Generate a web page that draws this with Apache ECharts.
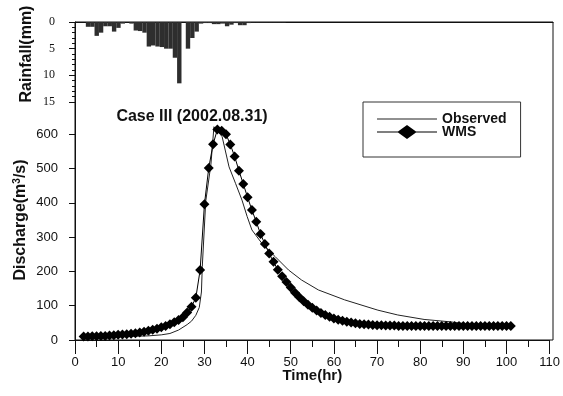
<!DOCTYPE html>
<html>
<head>
<meta charset="utf-8">
<script src="https://cdn.jsdelivr.net/npm/echarts@6.0.0/dist/echarts.min.js"></script>
<style>
  html, body { margin: 0; padding: 0; background: #fff; }
  #main { width: 563px; height: 396px; }
</style>
</head>
<body>
<div id="main"></div>
<script>
// hourly rainfall (mm), plotted downward from the top
const rainHour = [3, 4, 5, 6, 7, 8, 9, 10, 11, 12, 13, 14, 15, 16, 17, 18, 19, 20, 21, 22, 23, 24, 25, 26,
    27, 28, 29, 30, 31, 32, 33, 34, 35, 36, 37, 38, 39, 40, 41, 42, 43, 44, 45, 46, 47, 48];
const rainMm = [0.9, 0.9, 2.6, 2.0, 0.8, 0.8, 1.8, 1.1, 0.3, 0, 0.3, 1.6, 1.7, 2.0, 4.6, 4.4, 4.6, 4.7, 5.0, 5.0, 6.7, 11.5, 0, 5.0,
    3.0, 1.8, 0.3, 0.2, 0.2, 0.4, 0.4, 0.3, 0.8, 0.5, 0.2, 0.6, 0.6, 0.2, 0.1, 0.1, 0.1, 0.1, 0.1, 0.1, 0.1, 0.1];

// observed hydrograph (m3/s)
const obsTime = [2, 8, 14, 17, 20, 22, 24, 26, 27, 28, 28.8, 29.3, 29.5, 30.3, 31.5, 32.2, 34.1, 35.7, 37.2, 38.7,
    39.9, 41, 43.3, 46.4, 49.5, 52.5, 56.4, 62.5, 70.2, 74.8, 80.9, 87, 90];
const obsFlow = [8, 9, 11, 12, 15, 19, 29, 45, 55, 72, 95, 140, 214, 405, 512, 622, 593, 505, 457, 408,
    360, 321, 282, 243, 204, 175, 146, 117, 87, 73, 60, 53, 48];

// WMS simulated, hourly from t = 2 hr
const wmsStart = 2;
const wmsFlow = [
    10, 10, 11, 11, 12, 12, 13, 14, 15, 16,
    17, 18, 20, 22, 24, 27, 30, 33, 37, 41,
    46, 52, 58, 66, 80, 97, 123, 204, 396, 502,
    571, 614, 610, 600, 570, 535, 494, 455, 416, 379,
    345, 309, 280, 252, 228, 205, 186, 169, 153, 138,
    125, 113, 103, 94, 86, 79, 73, 68, 63, 59,
    56, 53, 51, 49, 47, 46, 45, 44, 43, 43,
    42, 42, 42, 41, 41, 41, 41, 41, 41, 41,
    41, 41, 41, 41, 41, 41, 41, 41, 41, 41,
    41, 41, 41, 41, 41, 41, 41, 41, 41, 41
];

const timeTicks = [0, 10, 20, 30, 40, 50, 60, 70, 80, 90, 100, 110];
const flowTicks = [0, 100, 200, 300, 400, 500, 600];

const ink = '#111';
const font = 'Liberation Sans';

// legend icons: plain line, and line with a diamond in the middle
const lineIcon = 'path://M0,0L0,0.01M0,6.5L60,6.5L60,7.5L0,7.5ZM60,14L60,14.01';
const diamondIcon = 'path://M0,6.5L21,6.5L30,0L39,6.5L60,6.5L60,7.5L39,7.5L30,14L21,7.5L0,7.5Z';

let rainData = rainHour.map((h, i) => [h, rainMm[i]]);
let obsData = obsTime.map((t, i) => [t, obsFlow[i]]);
let wmsData = wmsFlow.map((q, i) => [wmsStart + i, q]);

let chart = echarts.init(document.getElementById('main'));
chart.setOption({
    animation: false,
    textStyle: {fontFamily: font, color: ink},
    title: {
        text: 'Case III (2002.08.31)',
        left: 187,
        top: 104,
        textAlign: 'center',
        textStyle: {fontSize: 16, fontWeight: 'bold', color: ink, fontFamily: font}
    },
    legend: {
        data: [
            {name: 'Observed', icon: lineIcon},
            {name: 'WMS', icon: diamondIcon}
        ],
        orient: 'vertical',
        left: 363,
        top: 102,
        borderColor: '#333',
        borderWidth: 1,
        padding: [10, 14, 18, 14],
        itemWidth: 60,
        itemHeight: 14,
        itemGap: -1,
        textStyle: {fontSize: 14, fontWeight: 'bold', color: ink, fontFamily: font}
    },
    grid: [
        {left: 75, right: 10, top: 22, height: 80},
        {left: 75, right: 10, top: 100, bottom: 56},
        // outer frame round both panels
        {left: 75, right: 10, top: 22, bottom: 56, show: true, borderColor: ink, borderWidth: 1,
            backgroundColor: 'transparent'}
    ],
    xAxis: [
        {
            gridIndex: 0, type: 'value', min: 0, max: 110, position: 'top',
            axisLine: {show: true, onZero: false, lineStyle: {color: ink, width: 1}},
            axisTick: {show: false}, axisLabel: {show: false}, splitLine: {show: false}
        },
        {
            gridIndex: 1, type: 'value', min: 0, max: 110, interval: 10,
            name: 'Time(hr)', nameLocation: 'middle', nameGap: 28, nameMoveOverlap: false,
            nameTextStyle: {fontSize: 15, fontWeight: 'bold', color: ink, fontFamily: font},
            axisLine: {show: true, onZero: false, lineStyle: {color: ink, width: 1}},
            axisTick: {show: true, length: 14, lineStyle: {color: ink}, customValues: timeTicks},
            minorTick: {show: true, splitNumber: 2, length: 7, lineStyle: {color: ink}},
            axisLabel: {margin: 16, fontSize: 13, color: ink, customValues: timeTicks},
            splitLine: {show: false}
        },
        {gridIndex: 2, type: 'value', min: 0, max: 110, show: false}
    ],
    yAxis: [
        {
            gridIndex: 0, type: 'value', inverse: true, min: 0, max: 15, interval: 5,
            name: 'Rainfall(mm)', nameLocation: 'middle', nameGap: 40, nameMoveOverlap: false,
            nameTextStyle: {fontSize: 16, fontWeight: 'bold', color: ink, fontFamily: font, padding: [0, 0, 0, 16]},
            axisLine: {show: true, onZero: false, lineStyle: {color: ink}},
            axisTick: {show: true, length: 6, lineStyle: {color: ink}},
            minorTick: {show: true, splitNumber: 5, length: 3, lineStyle: {color: ink}},
            axisLabel: {fontFamily: 'Liberation Serif', fontSize: 12, margin: 20, color: ink},
            splitLine: {show: false}
        },
        {
            gridIndex: 1, type: 'value', min: 0, max: 700, interval: 100,
            name: 'Discharge(m{sup|3}/s)', nameLocation: 'middle', nameGap: 46, nameMoveOverlap: false,
            nameTextStyle: {
                fontSize: 16, fontWeight: 'bold', color: ink, fontFamily: font,
                rich: {sup: {fontSize: 10, fontWeight: 'bold', verticalAlign: 'top', padding: [0, 0, 7, 0]}}
            },
            axisLine: {show: true, onZero: false, lineStyle: {color: ink}},
            axisTick: {show: true, length: 6, lineStyle: {color: ink}, customValues: flowTicks},
            axisLabel: {fontSize: 13, margin: 17, color: ink, customValues: flowTicks},
            splitLine: {show: false}
        },
        {gridIndex: 2, type: 'value', min: 0, max: 1, show: false}
    ],
    series: [
        {
            name: 'Rainfall',
            type: 'bar',
            xAxisIndex: 0,
            yAxisIndex: 0,
            barWidth: 4.4,
            itemStyle: {color: '#2e2e2e'},
            data: rainData
        },
        {
            name: 'Observed',
            type: 'line',
            xAxisIndex: 1,
            yAxisIndex: 1,
            symbol: 'none',
            lineStyle: {color: '#222', width: 1},
            itemStyle: {color: '#222'},
            data: obsData
        },
        {
            name: 'WMS',
            type: 'line',
            xAxisIndex: 1,
            yAxisIndex: 1,
            symbol: 'diamond',
            symbolSize: 10,
            showSymbol: true,
            lineStyle: {color: '#000', width: 1},
            itemStyle: {color: '#000'},
            data: wmsData
        }
    ]
});
</script>
</body>
</html>
